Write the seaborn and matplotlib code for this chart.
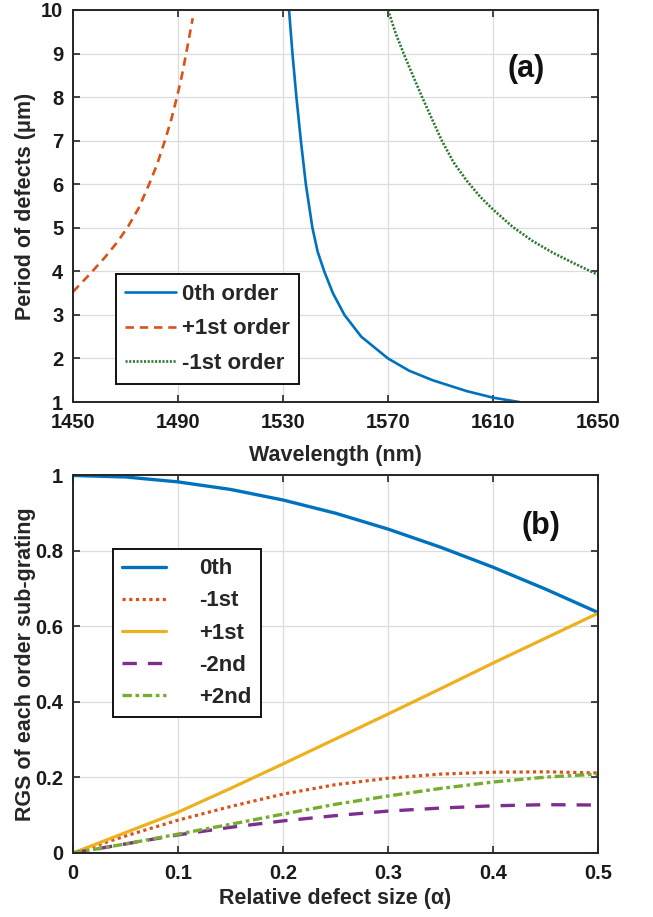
import numpy as np
import pandas as pd
import matplotlib
matplotlib.use("Agg")
import matplotlib.pyplot as plt
import seaborn as sns

# ---- panel (a): period of defects vs wavelength ----
wl_0th = [1532.3, 1533.6, 1535.1, 1536.8, 1538.7, 1541.2, 1543.2, 1545.7, 1549.0,
          1553.4, 1559.8, 1570.0, 1578.0, 1587.0, 1600.0, 1610.0, 1620.0]
p_0th = [10.0, 9.0, 8.0, 7.0, 6.0, 5.0, 4.45, 4.0, 3.5,
         3.0, 2.5, 2.0, 1.72, 1.5, 1.25, 1.1, 1.0]

wl_p1 = [1450.0, 1456.0, 1462.0, 1467.0, 1471.0, 1475.0, 1479.0, 1482.0,
         1485.0, 1487.5, 1489.6, 1491.5, 1493.1, 1495.6]
p_p1 = [3.53, 3.91, 4.31, 4.68, 5.03, 5.45, 6.0, 6.45,
        7.0, 7.5, 8.0, 8.5, 9.0, 9.81]

wl_m1 = [1570.0, 1573.0, 1576.5, 1580.0, 1583.0, 1586.5, 1590.5, 1595.0,
         1600.0, 1605.0, 1610.0, 1617.5, 1625.0, 1633.0, 1641.0, 1650.0]
p_m1 = [10.0, 9.45, 8.92, 8.42, 8.0, 7.53, 7.0, 6.5,
        6.08, 5.72, 5.42, 5.02, 4.7, 4.42, 4.18, 3.92]

# ---- panel (b): RGS vs relative defect size ----
alpha = [0.0, 0.05, 0.1, 0.15, 0.2, 0.25, 0.3, 0.35, 0.4, 0.45, 0.5]
rgs_0th = [1.0, 0.996, 0.983, 0.963, 0.935, 0.900, 0.858, 0.810, 0.757, 0.699, 0.637]
rgs_m1 = [0.0, 0.045, 0.087, 0.123, 0.156, 0.181, 0.198, 0.209, 0.214, 0.215, 0.212]
rgs_p1 = [0.0, 0.054, 0.108, 0.171, 0.236, 0.302, 0.368, 0.435, 0.503, 0.569, 0.635]
rgs_m2 = [0.0, 0.024, 0.048, 0.068, 0.085, 0.099, 0.111, 0.119, 0.125, 0.128, 0.127]
rgs_p2 = [0.0, 0.024, 0.050, 0.076, 0.103, 0.129, 0.151, 0.171, 0.188, 0.201, 0.209]

blue = "#0072BD"
orange = "#D95319"
yellow = "#EDB120"
purple = "#7E2F8E"
green = "#77AC30"
dkgreen = "#2E7A35"

sns.set_theme(style="whitegrid")
plt.rcParams["font.family"] = ["Liberation Sans", "DejaVu Sans"]
plt.rcParams["font.weight"] = "bold"
plt.rcParams["axes.labelweight"] = "bold"

fig = plt.figure(figsize=(6.53, 9.17), dpi=100)
ax1 = fig.add_axes([0.1118, 0.5616, 0.8040, 0.4275])
ax2 = fig.add_axes([0.1118, 0.0698, 0.8040, 0.4117])


def style_axes(ax):
    ax.set_facecolor("white")
    ax.grid(True, color="#dcdcdc", linewidth=0.9)
    for s in ax.spines.values():
        s.set_color("#262626")
        s.set_linewidth(1.4)
    ax.tick_params(direction="in", length=5, width=1.2, color="#262626",
                   top=True, right=True, bottom=True, left=True,
                   labelsize=14.5, labelcolor="#1a1a1a")
    ax.tick_params(axis="x", pad=8)
    ax.tick_params(axis="y", pad=7)


df_a0 = pd.DataFrame({"wl": wl_0th, "p": p_0th})
df_a1 = pd.DataFrame({"wl": wl_p1, "p": p_p1})
df_a2 = pd.DataFrame({"wl": wl_m1, "p": p_m1})

sns.lineplot(data=df_a0, x="wl", y="p", ax=ax1, color=blue, lw=1.9, label="0th order")
sns.lineplot(data=df_a1, x="wl", y="p", ax=ax1, color=orange, lw=1.9,
             linestyle=(0, (3.2, 2.2)), label="+1st order")
sns.lineplot(data=df_a2, x="wl", y="p", ax=ax1, color=dkgreen, lw=1.9,
             linestyle=(0, (0.8, 0.6)), label="-1st order")

ax1.set_xlim(1450, 1650)
ax1.set_ylim(1, 10)
ax1.set_xticks([1450, 1490, 1530, 1570, 1610, 1650])
ax1.set_yticks(range(1, 11))
ax1.set_xlabel("Wavelength (nm)", fontsize=15.5)
ax1.set_ylabel("Period of defects (\u03bcm)", fontsize=15.5)
style_axes(ax1)
ax1.xaxis.set_label_coords(0.5, -0.11)
ax1.yaxis.set_label_coords(-0.07, 0.5)
ax1.text(0.863, 0.849, "(a)", transform=ax1.transAxes, fontsize=22,
         fontweight="bold", ha="center", va="center", color="#111111")
leg1 = ax1.legend(loc="lower left", bbox_to_anchor=(0.081, 0.047), fontsize=16,
                  handlelength=2.3, handletextpad=0.25, labelspacing=0.62,
                  borderpad=0.42, fancybox=False, framealpha=1, borderaxespad=0)
leg1.get_frame().set_edgecolor("#111111")
leg1.get_frame().set_linewidth(1.4)

df_b = pd.DataFrame({"alpha": alpha, "0th": rgs_0th, "-1st": rgs_m1, "+1st": rgs_p1,
                     "-2nd": rgs_m2, "+2nd": rgs_p2})

sns.lineplot(data=df_b, x="alpha", y="0th", ax=ax2, color=blue, lw=2.4, label="0th")
sns.lineplot(data=df_b, x="alpha", y="-1st", ax=ax2, color=orange, lw=2.3,
             linestyle=(0, (1, 1.1)), label="-1st")
sns.lineplot(data=df_b, x="alpha", y="+1st", ax=ax2, color=yellow, lw=2.3, label="+1st")
sns.lineplot(data=df_b, x="alpha", y="-2nd", ax=ax2, color=purple, lw=2.4,
             linestyle=(0, (4.3, 3.3)), label="-2nd")
sns.lineplot(data=df_b, x="alpha", y="+2nd", ax=ax2, color=green, lw=2.4,
             linestyle=(0, (2.8, 1.1, 1.1, 1.1)), label="+2nd")

ax2.set_xlim(0, 0.5)
ax2.set_ylim(0, 1)
ax2.set_xticks([0, 0.1, 0.2, 0.3, 0.4, 0.5])
ax2.set_xticklabels(["0", "0.1", "0.2", "0.3", "0.4", "0.5"])
ax2.set_yticks([0, 0.2, 0.4, 0.6, 0.8, 1.0])
ax2.set_yticklabels(["0", "0.2", "0.4", "0.6", "0.8", "1"])
ax2.set_xlabel("Relative defect size (\u03b1)", fontsize=15.5)
ax2.set_ylabel("RGS of each order sub-grating", fontsize=15.5)
style_axes(ax2)
ax2.xaxis.set_label_coords(0.5, -0.092)
ax2.yaxis.set_label_coords(-0.07, 0.5)
ax2.text(0.891, 0.867, "(b)", transform=ax2.transAxes, fontsize=22,
         fontweight="bold", ha="center", va="center", color="#111111")
leg2 = ax2.legend(loc="upper left", bbox_to_anchor=(0.076, 0.804), fontsize=16,
                  handlelength=2.0, handletextpad=1.5, labelspacing=0.5,
                  borderpad=0.4, fancybox=False, framealpha=1, borderaxespad=0)
leg2.get_frame().set_edgecolor("#111111")
leg2.get_frame().set_linewidth(1.4)

fig.savefig("out.png", dpi=100, facecolor="white")
